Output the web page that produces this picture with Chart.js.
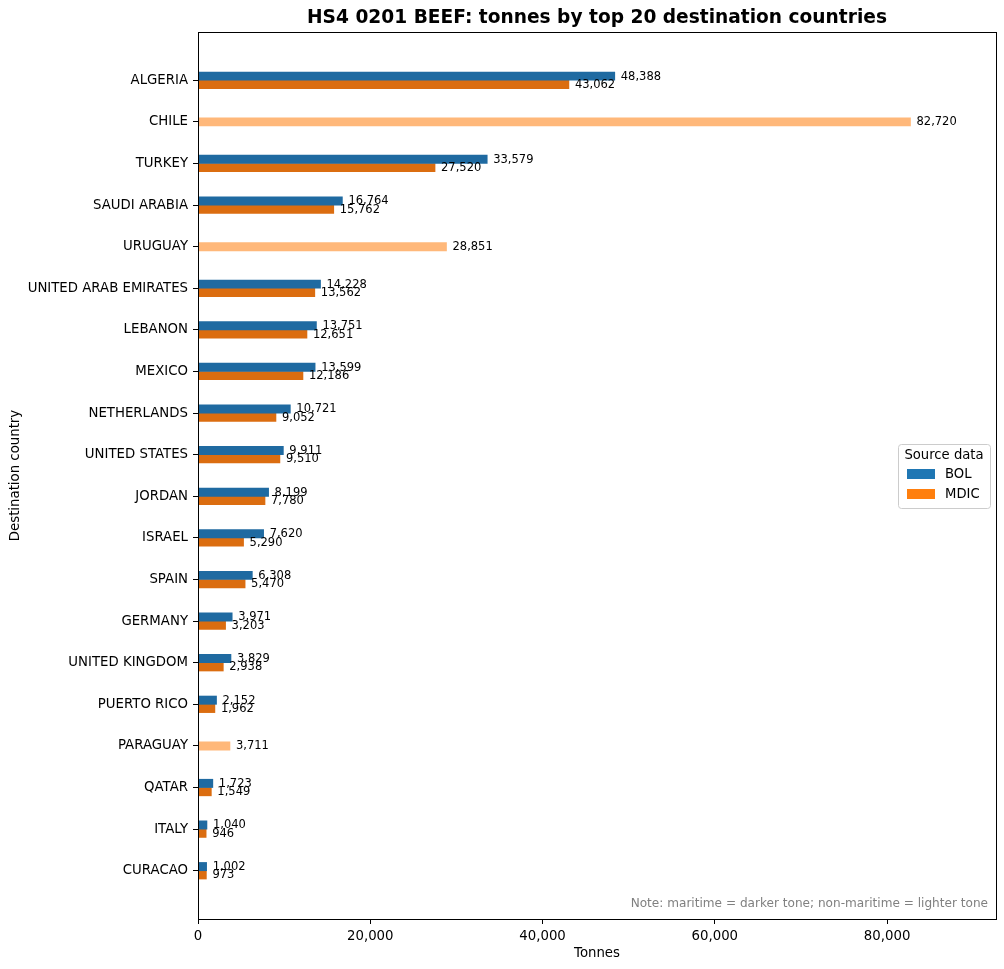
<!DOCTYPE html>
<html>
<head>
<meta charset="utf-8">
<script src="https://cdn.jsdelivr.net/npm/chart.js@4.4.1/dist/chart.umd.min.js"></script>
<style>
html,body{margin:0;padding:0;background:#fff;}
#wrap{width:1004px;height:969px;position:relative;}
</style>
</head>
<body>
<div id="wrap"><canvas id="c" width="1004" height="969"></canvas></div>
<script>
// ---- data ----
const countries = ['ALGERIA','CHILE','TURKEY','SAUDI ARABIA','URUGUAY','UNITED ARAB EMIRATES','LEBANON','MEXICO','NETHERLANDS','UNITED STATES','JORDAN','ISRAEL','SPAIN','GERMANY','UNITED KINGDOM','PUERTO RICO','PARAGUAY','QATAR','ITALY','CURACAO'];
const bolTonnes = [48388,null,33579,16764,null,14228,13751,13599,10721,9911,8199,7620,6308,3971,3829,2152,null,1723,1040,1002];
const mdicMaritimeTonnes = [43062,null,27520,15762,null,13562,12651,12186,9052,9510,7780,5290,5470,3203,2938,1962,null,1549,946,973];
const mdicNonMaritimeTonnes = [null,82720,null,null,28851,null,null,null,null,null,null,null,null,null,null,null,3711,null,null,null];
const xTickValues = [0,20000,40000,60000,80000];
const legendItems = ['BOL','MDIC'];

const FAMILY = "'DejaVu Sans', sans-serif";
const fmt = v => Number(v).toLocaleString('en-US');
const toPoints = arr => arr.map((v, i) => ({x: v, y: i}));

const COLORS = {
  bol: '#1f6aa1',
  mdicDark: '#db6d10',
  mdicLight: '#ffb87a',
  legendBol: '#1f77b4',
  legendMdic: '#ff7f0e'
};

const overlayPlugin = {
  id: 'overlay',
  afterDatasetsDraw(chart) {
    const ctx = chart.ctx;
    ctx.save();
    ctx.font = `11.5px ${FAMILY}`;
    ctx.fillStyle = '#000';
    ctx.textAlign = 'left';
    ctx.textBaseline = 'middle';
    chart.data.datasets.forEach((ds, di) => {
      const meta = chart.getDatasetMeta(di);
      meta.data.forEach((el, i) => {
        const v = ds.data[i].x;
        if (v === null || v === undefined) return;
        ctx.fillText(fmt(v), el.x + 6, el.y + 0.5);
      });
    });
    ctx.restore();
  },
  afterDraw(chart) {
    const ctx = chart.ctx;
    const ca = chart.chartArea;
    ctx.save();
    // frame
    ctx.strokeStyle = '#000';
    ctx.lineWidth = 1;
    ctx.strokeRect(Math.round(ca.left) + 0.5, Math.round(ca.top) + 0.5, Math.round(ca.right - ca.left), Math.round(ca.bottom - ca.top));
    // title
    ctx.fillStyle = '#000';
    ctx.font = `bold 18.6px ${FAMILY}`;
    ctx.textAlign = 'center';
    ctx.textBaseline = 'middle';
    ctx.fillText('HS4 0201 BEEF: tonnes by top 20 destination countries', (ca.left + ca.right) / 2, 18.5);
    // note
    ctx.fillStyle = '#808080';
    ctx.font = `12.1px ${FAMILY}`;
    ctx.textAlign = 'right';
    ctx.fillText('Note: maritime = darker tone; non-maritime = lighter tone', ca.right - 8, ca.bottom - 15);
    // legend
    const lx = ca.right - 98, ly = 444, lw = 92, lh = 64;
    ctx.beginPath();
    if (ctx.roundRect) ctx.roundRect(lx + 0.5, ly + 0.5, lw, lh, 3); else ctx.rect(lx + 0.5, ly + 0.5, lw, lh);
    ctx.fillStyle = 'rgba(255,255,255,0.8)';
    ctx.fill();
    ctx.strokeStyle = '#cccccc';
    ctx.lineWidth = 1;
    ctx.stroke();
    ctx.fillStyle = '#000';
    ctx.font = `13.2px ${FAMILY}`;
    ctx.textAlign = 'center';
    ctx.fillText('Source data', lx + lw / 2, ly + 12);
    const legendColors = [COLORS.legendBol, COLORS.legendMdic];
    legendItems.forEach((name, k) => {
      const ry = ly + 25 + k * 20;
      ctx.fillStyle = legendColors[k];
      ctx.fillRect(lx + 9, ry, 28, 10);
      ctx.fillStyle = '#000';
      ctx.textAlign = 'left';
      ctx.fillText(name, lx + 47, ry + 6);
    });
    ctx.restore();
  }
};

new Chart(document.getElementById('c'), {
  type: 'bar',
  data: {
    datasets: [
      {label: 'BOL', data: toPoints(bolTonnes), backgroundColor: COLORS.bol},
      {label: 'MDIC', data: toPoints(mdicMaritimeTonnes), backgroundColor: COLORS.mdicDark},
      {label: 'MDIC (non-maritime)', data: toPoints(mdicNonMaritimeTonnes), backgroundColor: COLORS.mdicLight}
    ]
  },
  options: {
    indexAxis: 'y',
    responsive: false,
    animation: false,
    devicePixelRatio: 1,
    layout: {padding: {top: 32, right: 8, left: 0, bottom: 0}},
    datasets: {bar: {barThickness: 8.3, skipNull: true, grouped: true}},
    plugins: {legend: {display: false}, title: {display: false}, tooltip: {enabled: false}},
    scales: {
      x: {
        type: 'linear', position: 'bottom', min: 0, max: 92646, offset: false,
        grid: {drawOnChartArea: false, drawTicks: true, tickLength: 5, tickColor: '#000', color: '#000', offset: false},
        border: {display: true, color: '#000', width: 1},
        ticks: {color: '#000', font: {family: FAMILY, size: 13.3}, padding: 5, maxRotation: 0, autoSkip: false, callback: v => fmt(v)},
        afterBuildTicks: s => { s.ticks = xTickValues.map(v => ({value: v})); },
        afterFit: s => { s.height = 50; },
        title: {display: true, text: 'Tonnes', color: '#000', font: {family: FAMILY, size: 13.3}, padding: {top: 0, bottom: 7}}
      },
      y: {
        type: 'linear', reverse: true, min: -1.16, max: 20.16, offset: false,
        grid: {drawOnChartArea: false, drawTicks: true, tickLength: 5, tickColor: '#000', color: '#000', offset: false},
        border: {display: true, color: '#000', width: 1},
        ticks: {color: '#000', font: {family: FAMILY, size: 13.3}, padding: 5, autoSkip: false, callback: v => (countries[v] !== undefined ? countries[v] : '')},
        afterBuildTicks: s => { s.ticks = countries.map((c, i) => ({value: i})); },
        afterFit: s => { s.width = 198; },
        title: {display: true, text: 'Destination country', color: '#000', font: {family: FAMILY, size: 13.3}, padding: {top: 8, bottom: 0}}
      }
    }
  },
  plugins: [overlayPlugin]
});
</script>
</body>
</html>
